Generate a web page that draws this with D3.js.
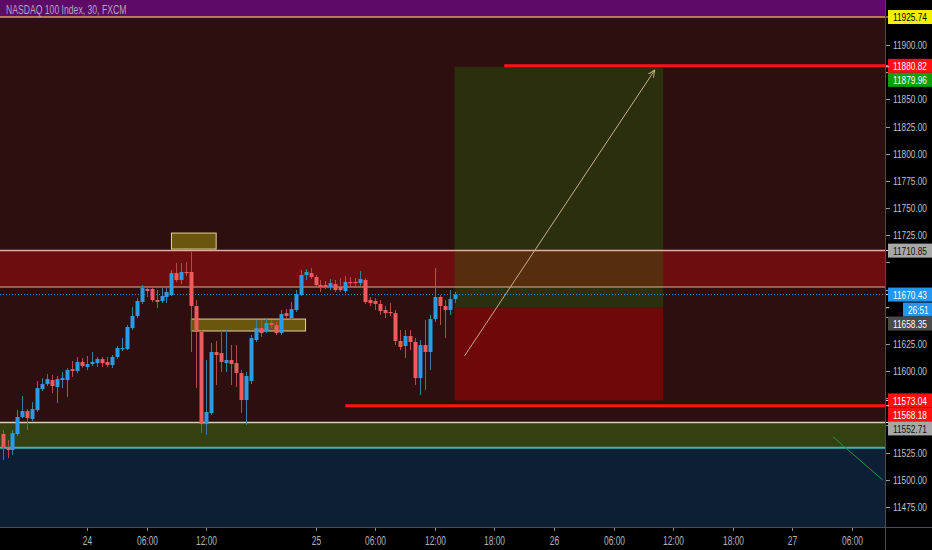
<!DOCTYPE html>
<html><head><meta charset="utf-8">
<script src="https://cdn.jsdelivr.net/npm/d3@7"></script>
<style>
html,body{margin:0;padding:0;background:#000;}
svg{display:block;}
text{font-family:"Liberation Sans","DejaVu Sans",sans-serif;}
</style></head>
<body><svg id="c" width="932" height="550"></svg>
<script>
// ---------- DATA ----------
const title = "NASDAQ 100 Index, 30, FXCM";
const firstBar = -17; // bar index of first candle (bar 0 = "24" 00:00)
const open = [11542.1,11530.2,11527.4,11542.1,11557.8,11563.3,11555.9,11564.2,11583.5,11588.1,11591.8,11585.4,11591.8,11591.8,11601.9,11600.1,11608.4,11603.8,11606.5,11607.4,11611.1,11608.4,11605.6,11613.0,11620.3,11620.3,11639.6,11650.7,11663.6,11675.5,11675.5,11665.4,11664.5,11668.2,11670.0,11690.2,11683.8,11691.2,11691.2,11659.9,11636.0,11551.3,11561.4,11617.6,11616.6,11607.4,11610.2,11607.4,11598.2,11573.4,11590.9,11628.6,11639.6,11636.9,11644.2,11642.4,11635.0,11653.4,11648.8,11656.2,11670.0,11688.4,11690.2,11686.6,11679.2,11679.2,11677.4,11680.1,11677.4,11673.7,11682.0,11682.0,11681.0,11683.8,11665.4,11664.5,11661.7,11656.2,11654.4,11653.4,11627.7,11623.1,11632.3,11626.8,11593.6,11624.0,11617.6,11647.9,11668.2,11659.9,11656.2,11666.3];
const high = [11545.8,11536.6,11545.8,11564.2,11577.1,11565.1,11571.6,11590.9,11593.6,11597.3,11596.4,11595.5,11599.2,11602.8,11609.3,11613.0,11612.0,11613.9,11617.6,11613.0,11613.0,11613.0,11614.8,11623.1,11630.4,11642.4,11659.0,11667.2,11679.2,11678.3,11678.3,11674.6,11676.4,11676.4,11693.0,11699.4,11699.4,11700.4,11709.6,11665.4,11637.8,11610.2,11625.8,11627.7,11637.8,11637.8,11624.0,11624.0,11601.0,11599.2,11633.2,11647.0,11647.0,11648.8,11647.0,11645.2,11656.2,11657.1,11663.6,11674.6,11693.0,11693.9,11694.8,11688.4,11683.8,11682.9,11684.7,11683.8,11685.6,11687.5,11686.6,11685.6,11692.1,11685.6,11668.2,11667.2,11665.4,11659.9,11662.6,11656.2,11637.8,11637.8,11637.8,11630.4,11628.6,11647.0,11651.6,11694.8,11670.0,11665.4,11674.6,11672.8];
const low = [11518.2,11520.0,11522.8,11540.3,11556.8,11545.8,11554.1,11562.4,11581.7,11586.3,11579.8,11570.7,11584.4,11576.2,11594.6,11598.2,11602.8,11601.0,11604.7,11603.8,11603.8,11603.8,11602.8,11611.1,11618.5,11619.4,11637.8,11648.8,11661.7,11668.2,11663.6,11658.0,11662.6,11662.6,11669.1,11682.0,11680.1,11687.5,11617.6,11584.4,11543.0,11541.2,11559.6,11587.2,11599.2,11599.2,11587.2,11585.4,11561.4,11550.4,11588.1,11626.8,11631.4,11635.0,11639.6,11633.2,11633.2,11648.8,11647.0,11654.4,11669.1,11683.8,11684.7,11677.4,11672.8,11675.5,11674.6,11672.8,11672.8,11671.8,11678.3,11678.3,11678.3,11661.7,11659.9,11656.2,11651.6,11648.8,11650.7,11624.0,11619.4,11612.0,11619.4,11587.2,11578.0,11582.6,11601.0,11645.2,11642.4,11630.4,11651.6,11662.6];
const close = [11530.2,11527.4,11543.0,11557.8,11563.3,11556.8,11565.1,11584.4,11588.1,11592.7,11586.3,11592.7,11593.6,11601.0,11600.1,11608.4,11604.7,11606.5,11608.4,11611.1,11607.4,11605.6,11613.0,11621.2,11621.2,11640.6,11650.7,11664.5,11676.4,11673.7,11665.4,11663.6,11669.1,11672.8,11690.2,11683.8,11691.2,11690.2,11659.9,11636.0,11551.3,11562.4,11617.6,11614.8,11608.4,11610.2,11606.5,11598.2,11573.4,11595.5,11630.4,11639.6,11635.0,11644.2,11642.4,11635.0,11652.5,11650.7,11657.1,11670.9,11688.4,11691.2,11686.6,11679.2,11677.4,11677.4,11681.0,11674.6,11674.6,11682.0,11681.0,11681.0,11684.7,11663.6,11662.6,11661.7,11655.3,11653.4,11653.4,11627.7,11622.2,11632.3,11626.8,11593.6,11624.0,11617.6,11647.9,11668.2,11659.9,11656.2,11666.3,11670.43];

const timeLabels = ["24","06:00","12:00","25","06:00","12:00","18:00","26","06:00","12:00","18:00","27","06:00"];
const timeBars   = [0,12,24,46,58,70,82,94,106,118,130,142,154];
const priceTicks = [11475,11500,11525,11550,11575,11600,11625,11650,11675,11700,11725,11750,11775,11800,11825,11850,11875,11900];

// zones and levels (prices)
const topLevel = 11925.74;
const redZone = [11710.85, 11677.4];
const greenZone = [11552.71, 11530.2];
const cyanLevel = 11529.4;
const lastPrice = 11670.43;
const countdown = "26:51";
const boxesTop = [11727.0, 11647.9];
const boxesBottom = [11712.3, 11636.9];
const boxesStart = [17, 21];
const boxesEnd = [26, 44];
const redLines = [11880.82, 11568.18];
const redLinesStart = [84, 52];
const longPos = {startBar:74, endBar:116, target:11879.96, entry:11658.35, stop:11573.04};
const arrowFrom = [76, 11614]; const arrowTo = [114.3, 11877];
const greenTrend = [[150.2, 11539.4],[160.2, 11499.8]];
// price-axis labels: value, bg, fg
const axisLabels = [
  {v:11925.74, bg:"#f5f000", fg:"#000"},
  {v:11880.82, bg:"#ff1010", fg:"#fff"},
  {v:11879.96, bg:"#0aa00a", fg:"#fff"},
  {v:11710.85, bg:"#a8a8a8", fg:"#111"},
  {v:11670.43, bg:"#2196f3", fg:"#fff", cd:true},
  {v:11658.35, bg:"#4a4a4a", fg:"#fff"},
  {v:11573.04, bg:"#ff1010", fg:"#fff"},
  {v:11568.18, bg:"#ff1010", fg:"#fff"},
  {v:11552.71, bg:"#a8a8a8", fg:"#111"}
];

// ---------- LAYOUT ----------
const W = 932, H = 550, plotR = 885, plotB = 527;
const svg = d3.select("#c");
const x = d3.scaleLinear().domain([0,154]).range([87,852]);
const y = d3.scaleLinear().domain([11941.4, 11456.6]).range([0, plotB]);
// narrow text: horizontally scaled group
const narrowText = (parent, px, py, f, str, opts) => {
  const gg = parent.append("g").attr("transform", `translate(${px},${py}) scale(${f},1)`);
  const t = gg.append("text").attr("x",0).attr("y",0).attr("dy",opts.dy||"0.35em")
    .attr("fill",opts.fill).attr("font-size",opts.size).text(str);
  if (opts.anchor) t.attr("text-anchor",opts.anchor);
  return t;
};

svg.append("rect").attr("width",W).attr("height",H).attr("fill","#000");
svg.append("defs").append("clipPath").attr("id","clip")
  .append("rect").attr("x",0).attr("y",0).attr("width",plotR).attr("height",plotB);
const g = svg.append("g").attr("clip-path","url(#clip)");

// backgrounds
g.append("rect").attr("x",0).attr("y",0).attr("width",plotR).attr("height",plotB).attr("fill","#2d0f10");
g.append("rect").attr("x",0).attr("y",0).attr("width",plotR).attr("height",y(topLevel)).attr("fill","#5d0b66");
g.append("rect").attr("x",0).attr("y",y(cyanLevel)).attr("width",plotR).attr("height",plotB-y(cyanLevel)).attr("fill","#0c1f34");
g.append("rect").attr("x",0).attr("y",y(redZone[0])).attr("width",plotR).attr("height",y(redZone[1])-y(redZone[0])).attr("fill","#6c0e10");
g.append("rect").attr("x",0).attr("y",y(greenZone[0])).attr("width",plotR).attr("height",y(greenZone[1])-y(greenZone[0])).attr("fill","#33400f");

// long position tool
const lx0 = x(longPos.startBar), lx1 = x(longPos.endBar);
g.append("rect").attr("x",lx0).attr("y",y(longPos.target)).attr("width",lx1-lx0)
  .attr("height",y(longPos.entry)-y(longPos.target)).attr("fill","rgba(40,118,10,0.31)");
g.append("rect").attr("x",lx0).attr("y",y(longPos.entry)).attr("width",lx1-lx0)
  .attr("height",y(longPos.stop)-y(longPos.entry)).attr("fill","rgba(200,0,0,0.42)");

// zone border lines
const hline = (v,col,w,x0) => g.append("line").attr("x1",x0||0).attr("x2",plotR)
  .attr("y1",y(v)).attr("y2",y(v)).attr("stroke",col).attr("stroke-width",w);
hline(topLevel,"#d9a442",1.5);
hline(redZone[0],"#e9aaa2",1.5);
hline(redZone[1],"#d6b592",1.2);
hline(greenZone[0],"#d6d0b6",1.5);
hline(cyanLevel,"#3fb1bb",2);

// yellow boxes
boxesTop.forEach((t,i)=>{
  g.append("rect").attr("x",x(boxesStart[i])).attr("y",y(t))
   .attr("width",x(boxesEnd[i])-x(boxesStart[i])).attr("height",y(boxesBottom[i])-y(t))
   .attr("fill","#6a560c").attr("stroke","#e4d49a").attr("stroke-width",1);
});

// last price dotted line
g.append("line").attr("x1",0).attr("x2",plotR).attr("y1",y(lastPrice)).attr("y2",y(lastPrice))
  .attr("stroke","#2f8fe0").attr("stroke-width",1).attr("stroke-dasharray","1,2");

// candles
const idx = d3.range(open.length);
const up = i => close[i] >= open[i];
g.selectAll(".wick").data(idx).join("line")
  .attr("x1",i=>Math.round(x(firstBar+i))+0.5).attr("x2",i=>Math.round(x(firstBar+i))+0.5)
  .attr("y1",i=>y(high[i])).attr("y2",i=>y(low[i]))
  .attr("stroke",i=>up(i)?"#3a7f98":"#b34a4a").attr("stroke-width",1);
g.selectAll(".body").data(idx).join("rect")
  .attr("x",i=>Math.round(x(firstBar+i))-1.5)
  .attr("width",4)
  .attr("y",i=>y(Math.max(open[i],close[i])))
  .attr("height",i=>Math.max(1.2, Math.abs(y(open[i])-y(close[i]))))
  .attr("fill",i=>up(i)?"#2b9be6":"#ef5a5a");

// red horizontal lines
redLines.forEach((v,i)=>hline(v,"#ff1414",3,x(redLinesStart[i])));

// arrow
const defs = svg.select("defs");
defs.append("marker").attr("id","arr").attr("viewBox","0 0 10 10").attr("refX",9).attr("refY",5)
  .attr("markerWidth",8).attr("markerHeight",8).attr("orient","auto")
  .append("path").attr("d","M0,1 L9,5 L0,9").attr("fill","none").attr("stroke","#c9ad86").attr("stroke-width",1.2);
g.append("line").attr("x1",x(arrowFrom[0])).attr("y1",y(arrowFrom[1]))
  .attr("x2",x(arrowTo[0])).attr("y2",y(arrowTo[1]))
  .attr("stroke","#c9ad86").attr("stroke-width",1).attr("marker-end","url(#arr)");

// green trend line
g.append("line").attr("x1",x(greenTrend[0][0])).attr("y1",y(greenTrend[0][1]))
  .attr("x2",x(greenTrend[1][0])).attr("y2",y(greenTrend[1][1]))
  .attr("stroke","#1f9a44").attr("stroke-width",1);

// title
narrowText(svg, 6, 14, 0.72, title, {fill:"#b3a3c6", size:12, dy:"0"});

// axes frame
svg.append("line").attr("x1",plotR+0.5).attr("x2",plotR+0.5).attr("y1",0).attr("y2",H).attr("stroke","#4a4a4a");
svg.append("line").attr("x1",0).attr("x2",W).attr("y1",plotB+0.5).attr("y2",plotB+0.5).attr("stroke","#4a4f5a");

// price labels layout (stacked to avoid overlap)
const lh = 14;
let prevBottom = -100;
const placed = [];
axisLabels.forEach(l=>{
  let cy = y(l.v);
  if (cy - lh/2 < prevBottom) cy = prevBottom + lh/2;
  placed.push({l, cy, x0:888});
  prevBottom = cy + lh/2;
  if (l.cd) {
    const cc = cy + lh + 1;
    placed.push({l:{bg:l.bg, fg:l.fg, txt:countdown}, cy:cc, x0:903});
    prevBottom = cc + lh/2;
  }
});

// price axis ticks (labels hidden where a price label covers them)
const yAxis = svg.append("g");
const fAxis = 0.72;
priceTicks.forEach(v=>{
  const ty = y(v);
  yAxis.append("line").attr("x1",plotR+1).attr("x2",plotR+5).attr("y1",Math.round(ty)+0.5).attr("y2",Math.round(ty)+0.5).attr("stroke","#9a9a9a");
  const covered = placed.some(p => Math.abs(p.cy - ty) < 12);
  if (!covered) narrowText(yAxis, 893, ty, fAxis, d3.format(".2f")(v), {fill:"#bfc2ca", size:11.5});
});

placed.forEach(p=>{
  if (p.l.v !== undefined)
    yAxis.append("line").attr("x1",plotR+1).attr("x2",plotR+4).attr("y1",y(p.l.v)).attr("y2",y(p.l.v)).attr("stroke","#ddd");
  yAxis.append("rect").attr("x",p.x0).attr("y",p.cy-lh/2).attr("width",W-p.x0).attr("height",lh).attr("fill",p.l.bg);
  const txt = p.l.txt || d3.format(".2f")(p.l.v);
  narrowText(yAxis, p.x0+5, p.cy, fAxis, txt, {fill:p.l.fg, size:11.5, dy:"0.36em"});
});

// time axis
const xAxis = svg.append("g");
timeLabels.forEach((t,i)=>{
  const px = Math.round(x(timeBars[i]))+0.5;
  xAxis.append("line").attr("x1",px).attr("x2",px).attr("y1",plotB+1).attr("y2",plotB+4).attr("stroke","#888");
  narrowText(xAxis, px, 541, 0.7, t, {fill:"#b0b3ba", size:12, anchor:"middle"});
});
</script></body></html>
